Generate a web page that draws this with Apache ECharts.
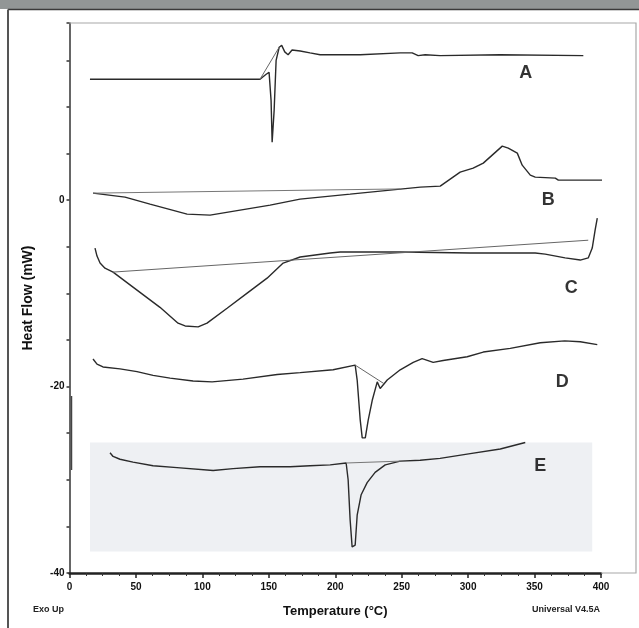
<!DOCTYPE html>
<html><head><meta charset="utf-8">
<script src="https://cdn.jsdelivr.net/npm/echarts@6/dist/echarts.min.js"></script>
<style>html,body{margin:0;padding:0;background:#fff;}#c{width:639px;height:628px;}</style>
</head><body><div id="c"></div>
<script>
// ---- data: [temperature °C, heat flow mW] ----
var curveA = [[15.4,12.97],[143.4,12.97],[148,13.5],[150.2,13.7],[151.7,10.7],[152.5,6.2],[154,9.6],[155.5,15.0],[157.8,16.4],[159.7,16.6],[162,15.9],[164.5,15.6],[167.5,16.1],[173.6,16.0],[181,15.8],[188.6,15.6],[200,15.6],[218.8,15.6],[248.9,15.8],[257.9,15.8],[262.4,15.5],[267.7,15.6],[278.9,15.5],[324,15.6],[386.7,15.5]];
var baseA = [[143.4,12.97],[157.8,16.4]];
var curveB = [[17.7,0.75],[41.8,0.32],[60.6,-0.43],[88.5,-1.5],[105.8,-1.61],[128.4,-1.07],[151,-0.54],[173.5,0.11],[211.2,0.64],[248.9,1.18],[264,1.39],[279,1.5],[294,3.0],[303.8,3.43],[311.4,3.97],[325.7,5.79],[330.2,5.57],[337,5.04],[340.7,3.75],[346.8,2.68],[350.5,2.47],[365.6,2.36],[367.9,2.14],[404.7,2.14]];
var baseB = [[17.7,0.75],[249,1.2]];
var curveC = [[19.2,-5.15],[20.7,-6.0],[23,-6.75],[26.7,-7.3],[32.8,-7.72],[47.8,-9.33],[68.1,-11.5],[81.7,-13.2],[87,-13.5],[96.8,-13.6],[103.5,-13.2],[118.6,-11.6],[133.7,-9.98],[148.7,-8.37],[160.8,-6.75],[173.6,-6.1],[196.2,-5.68],[203.7,-5.57],[248.9,-5.57],[301.6,-5.68],[350.5,-5.68],[358,-5.79],[373,-6.2],[384.4,-6.43],[390.4,-6.2],[393.4,-5.14],[395.6,-3.2],[397.2,-1.93]];
var baseC = [[32.8,-7.72],[390.4,-4.3]];
var curveD = [[17.7,-17.04],[20.7,-17.6],[25.2,-17.9],[38,-18.1],[50.8,-18.4],[62.9,-18.8],[75.7,-19.1],[93,-19.4],[107.3,-19.5],[130.6,-19.2],[156.3,-18.7],[173.6,-18.5],[198.4,-18.2],[215,-17.7],[216.5,-19.3],[218.8,-23.6],[220.3,-25.5],[222.6,-25.5],[224.8,-23.6],[227.8,-21.5],[231.6,-19.5],[233.8,-20.2],[236.8,-19.7],[239.1,-19.3],[248.9,-18.2],[258.7,-17.4],[265.4,-17.0],[273.7,-17.4],[281.2,-17.2],[299.3,-16.8],[311.4,-16.3],[331.7,-15.9],[354.3,-15.3],[372.7,-15.1],[384.4,-15.2],[397.2,-15.5]];
var baseD = [[215,-17.7],[236.8,-19.7]];
var curveE = [[30.5,-27.1],[32.8,-27.5],[38,-27.8],[47.8,-28.1],[62.9,-28.5],[80.9,-28.7],[108.1,-29.0],[123.1,-28.8],[143.4,-28.6],[166,-28.6],[181,-28.5],[196.2,-28.4],[208.2,-28.2],[209.7,-30.0],[211.2,-34.3],[212.7,-37.2],[215,-37.0],[216.5,-33.8],[219.5,-31.6],[224,-30.3],[230,-29.2],[237.6,-28.4],[248.9,-28.0],[263.9,-27.9],[278.9,-27.7],[301.6,-27.2],[324.2,-26.7],[343,-26.0]];
var baseE = [[208.2,-28.2],[248.9,-28.0]];
var curveLabels = ['A','B','C','D','E'];
var labelPos = [[343.4,13.6],[360.3,0],[377.6,-9.4],[370.9,-19.5],[354.3,-28.5]];
var xTicks = [0,50,100,150,200,250,300,350,400];
var yTickLabels = [0,-20,-40];
var shadeBox = [[15.4,-26.0],[393.4,-37.7]];

var FONT = '"Liberation Sans",Arial,sans-serif';
function line(data, w, col){
  return {type:'line', data:data, showSymbol:false, clip:false, smooth:false,
    lineStyle:{color:col||'#2a2a2a', width:w||1.3}, silent:true, z:3};
}
var series = [
  line(curveA,1.4), line(baseA,1,'#666'),
  line(curveB,1.4), line(baseB,1,'#777'),
  line(curveC,1.4), line(baseC,1,'#666'),
  line(curveD,1.4), line(baseD,1,'#666'),
  line(curveE,1.4), line(baseE,1,'#777')
];
series[8].markArea = {silent:true, itemStyle:{color:'#eef0f3'}, z:0,
  data:[[{coord:shadeBox[0]},{coord:shadeBox[1]}]]};
series.push({type:'scatter', symbolSize:0, silent:true, clip:false,
  data: labelPos.map(function(p,i){return {value:p, name:curveLabels[i]};}),
  label:{show:true, position:'inside', formatter:'{b}', color:'#000',
    fontFamily:FONT, fontWeight:'bold', fontSize:18}});

var chart = echarts.init(document.getElementById('c'));
chart.setOption({
  backgroundColor:'#fff',
  animation:false,
  grid:{left:69.5, right:38, top:23, bottom:55, show:false},
  xAxis:{type:'value', min:0, max:400, interval:50,
    name:'Temperature (°C)', nameLocation:'middle', nameGap:32,
    nameTextStyle:{fontFamily:FONT, fontWeight:'bold', fontSize:13, color:'#111'},
    axisLine:{show:true, onZero:false, lineStyle:{color:'#222', width:2.5}},
    axisTick:{show:true, length:5, lineStyle:{color:'#222', width:1.5}},
    minorTick:{show:true, splitNumber:4, length:3, lineStyle:{color:'#333'}},
    splitLine:{show:false},
    axisLabel:{fontFamily:FONT, fontWeight:'bold', fontSize:10, color:'#111', margin:9,
      formatter:function(v){return xTicks.indexOf(v)>=0 ? String(v) : '';}}},
  yAxis:{type:'value', min:-40, max:19, interval:5,
    name:'Heat Flow (mW)', nameLocation:'middle', nameGap:34,
    nameTextStyle:{fontFamily:FONT, fontWeight:'bold', fontSize:14, color:'#111'},
    axisLine:{show:true, onZero:false, lineStyle:{color:'#333', width:1.5}},
    axisTick:{show:true, length:3, lineStyle:{color:'#333', width:1.5}},
    splitLine:{show:false},
    axisLabel:{fontFamily:FONT, fontWeight:'bold', fontSize:10, color:'#111', margin:5,
      formatter:function(v){return yTickLabels.indexOf(v)>=0 ? String(v) : '';}}},
  graphic:[
    {type:'rect', shape:{x:0,y:0,width:639,height:9}, style:{fill:'#929696'}, z:10},
    {type:'line', shape:{x1:8,y1:9.5,x2:639,y2:9.5}, style:{stroke:'#3a3a3a', lineWidth:1.5}, z:10},
    {type:'line', shape:{x1:8,y1:9.5,x2:8,y2:628}, style:{stroke:'#555', lineWidth:2}, z:10},
    {type:'polyline', shape:{points:[[69.5,23],[636,23],[636,573],[601,573]]}, style:{stroke:'#a8a8a8', fill:null, lineWidth:1.2}, z:1},
    {type:'line', shape:{x1:71.5,y1:396,x2:71.5,y2:470}, style:{stroke:'#444', lineWidth:1.5}, z:5},
    {type:'text', x:33, y:605, style:{text:'Exo Up', font:'bold 9px '+FONT, fill:'#222'}},
    {type:'text', x:600, y:605, style:{text:'Universal V4.5A', font:'bold 9px '+FONT, fill:'#222', textAlign:'right'}}
  ],
  series:series
});
</script></body></html>
